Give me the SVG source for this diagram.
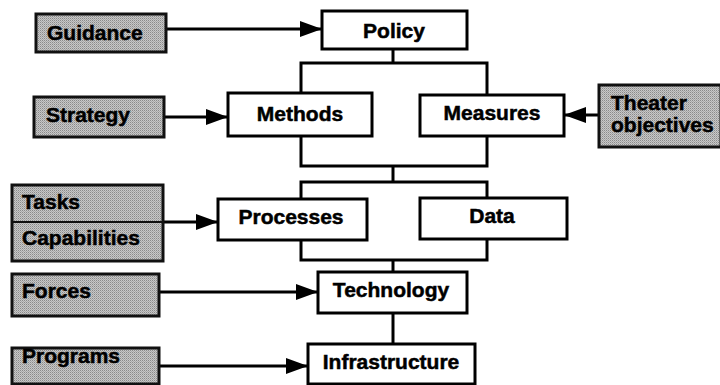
<svg xmlns="http://www.w3.org/2000/svg" width="720" height="385" viewBox="0 0 720 385">
<defs>
<style>
.box{fill:#fff;stroke:#000;stroke-width:3}
.gbox{fill:url(#stip);stroke:#111;stroke-width:3}
.lbl{font-family:"Liberation Sans",Arial,sans-serif;font-weight:bold;font-size:21px;fill:#000;stroke:#000;stroke-width:0.5}
.c{text-anchor:middle}
.ln{fill:none;stroke:#000;stroke-width:3}
.arr{fill:none;stroke:#000;stroke-width:3;marker-end:url(#ah)}
</style>
<pattern id="stip" width="2" height="2" patternUnits="userSpaceOnUse">
<rect width="2" height="2" fill="#c8c8c8"/>
<rect width="1" height="1" fill="#8a8a8a"/>
<rect x="1" y="1" width="1" height="1" fill="#a8a8a8"/>
</pattern>
<marker id="ah" markerUnits="userSpaceOnUse" markerWidth="22" markerHeight="16" refX="22" refY="8" orient="auto">
<path d="M0,0 L22,8 L0,16 Z" fill="#000"/>
</marker>
</defs>
<rect width="720" height="385" fill="#fff"/>
<g id="connectors">
<line class="arr" x1="166" y1="29" x2="322" y2="29"/>
<line class="arr" x1="164" y1="117" x2="228" y2="117"/>
<line class="arr" x1="599" y1="115" x2="564" y2="115"/>
<line class="arr" x1="163" y1="222" x2="218" y2="222"/>
<line class="arr" x1="159" y1="292" x2="318" y2="292"/>
<line class="arr" x1="159" y1="366" x2="308" y2="366"/>
<line class="ln" x1="393" y1="49" x2="393" y2="63"/>
<path class="ln" d="M301,93 V63 H487 V95"/>
<path class="ln" d="M301,136 V166 H487 V136"/>
<line class="ln" x1="393" y1="166" x2="393" y2="182"/>
<path class="ln" d="M301,199 V182 H487 V198"/>
<path class="ln" d="M301,240 V260 H487 V239"/>
<line class="ln" x1="393" y1="260" x2="393" y2="272"/>
<line class="ln" x1="393" y1="313" x2="393" y2="344"/>
</g>
<g id="guidance"><rect class="gbox" x="36" y="14" width="130" height="38"/><text class="lbl" x="47" y="40">Guidance</text></g>
<g id="policy"><rect class="box" x="322" y="11" width="145" height="38"/><text class="lbl c" x="394" y="38">Policy</text></g>
<g id="strategy"><rect class="gbox" x="34" y="97" width="130" height="40"/><text class="lbl" x="46" y="122">Strategy</text></g>
<g id="methods"><rect class="box" x="228" y="93" width="144" height="43"/><text class="lbl c" x="300" y="121">Methods</text></g>
<g id="measures"><rect class="box" x="420" y="95" width="144" height="41"/><text class="lbl c" x="492" y="120">Measures</text></g>
<g id="theater"><rect class="gbox" x="599" y="85" width="122" height="62"/><text class="lbl" x="611" y="110">Theater</text><text class="lbl" x="611" y="132">objectives</text></g>
<g id="tasks-capabilities"><rect class="gbox" x="12" y="185" width="151" height="76"/><line x1="12" y1="222" x2="163" y2="222" stroke="#111" stroke-width="2"/><text class="lbl" x="22" y="209">Tasks</text><text class="lbl" x="22" y="245">Capabilities</text></g>
<g id="processes"><rect class="box" x="218" y="199" width="149" height="41"/><text class="lbl c" x="291" y="224">Processes</text></g>
<g id="data"><rect class="box" x="420" y="198" width="147" height="41"/><text class="lbl c" x="492" y="223">Data</text></g>
<g id="forces"><rect class="gbox" x="12" y="274" width="147" height="42"/><text class="lbl" x="22" y="298">Forces</text></g>
<g id="technology"><rect class="box" x="318" y="272" width="149" height="41"/><text class="lbl c" x="391" y="297">Technology</text></g>
<g id="programs"><rect class="gbox" x="12" y="348" width="147" height="36"/><text class="lbl" x="22" y="363">Programs</text></g>
<g id="infrastructure"><rect class="box" x="308" y="344" width="167" height="40"/><text class="lbl c" x="391" y="369">Infrastructure</text></g>
</svg>
